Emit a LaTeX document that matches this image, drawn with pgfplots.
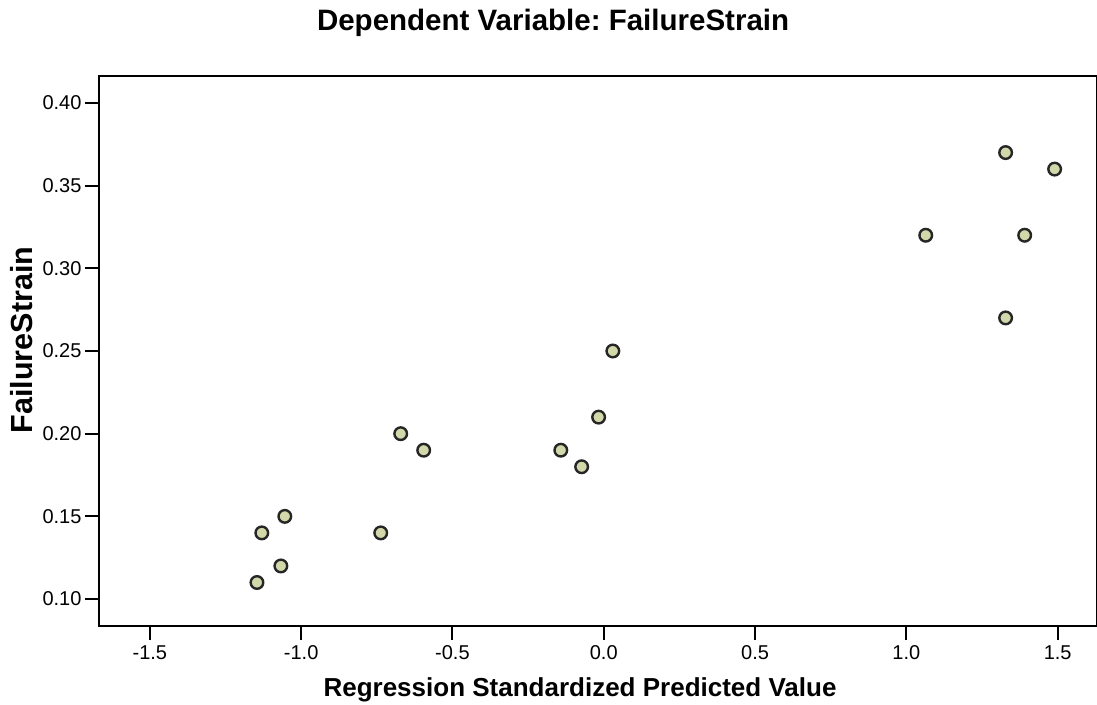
\documentclass[border=0pt]{standalone}
\usepackage{fontspec}
\setmainfont{Liberation Sans}
\usepackage{pgfplots}
\pgfplotsset{compat=1.18}
\definecolor{ptfill}{HTML}{D3D8AA}
\frenchspacing

\begin{document}
\begin{tikzpicture}
% 1pt = 1px of the reference
\path[use as bounding box] (-99pt,-78pt) rectangle (998pt,626pt);
\begin{axis}[
    at={(0pt,0pt)}, anchor=south west,
    scale only axis,
    width=998pt, height=550pt,
    xmin=-1.668, xmax=1.63,
    ymin=0.0837, ymax=0.4163,
    xtick={-1.5,-1.0,...,1.5},
    ytick={0.10,0.15,...,0.40},
    xticklabel style={/pgf/number format/fixed, /pgf/number format/fixed zerofill,
        /pgf/number format/precision=1, /pgf/number format/assume math mode=true, yshift=-2pt},
    yticklabel style={/pgf/number format/fixed, /pgf/number format/fixed zerofill,
        /pgf/number format/precision=2, /pgf/number format/assume math mode=true},
    tick align=outside,
    xtick pos=left, ytick pos=left,
    major tick length=14pt,
    every tick/.style={draw=black, line width=2pt},
    axis line style={line width=2.2pt},
    ticklabel style={font=\fontsize{20}{23}\selectfont},
    title={\bfseries Dependent Variable: FailureStrain},
    title style={font=\fontsize{29.5}{32}\selectfont, at={(axis description cs:0.455,1.086)}, anchor=center},
    xlabel={\bfseries Regression Standardized Predicted Value},
    xlabel style={font=\fontsize{26}{29}\selectfont, at={(axis description cs:0.482,-0.116)}, anchor=center},
    ylabel={\bfseries FailureStrain},
    ylabel style={font=\fontsize{30.5}{33}\selectfont, at={(axis description cs:-0.078,0.52)}, anchor=center, rotate=0},
]
\addplot[only marks, mark=*, mark size=6.3pt, mark options={fill=ptfill, draw=black!85, line width=2.4pt}] coordinates {
(-1.146,0.11) (-1.130,0.14) (-1.054,0.15) (-1.067,0.12)
(-0.737,0.14) (-0.671,0.20) (-0.595,0.19)
(-0.142,0.19) (-0.073,0.18) (-0.017,0.21) (0.030,0.25)
(1.064,0.32) (1.328,0.37) (1.391,0.32) (1.328,0.27) (1.490,0.36)
};
\end{axis}
\end{tikzpicture}
\end{document}
